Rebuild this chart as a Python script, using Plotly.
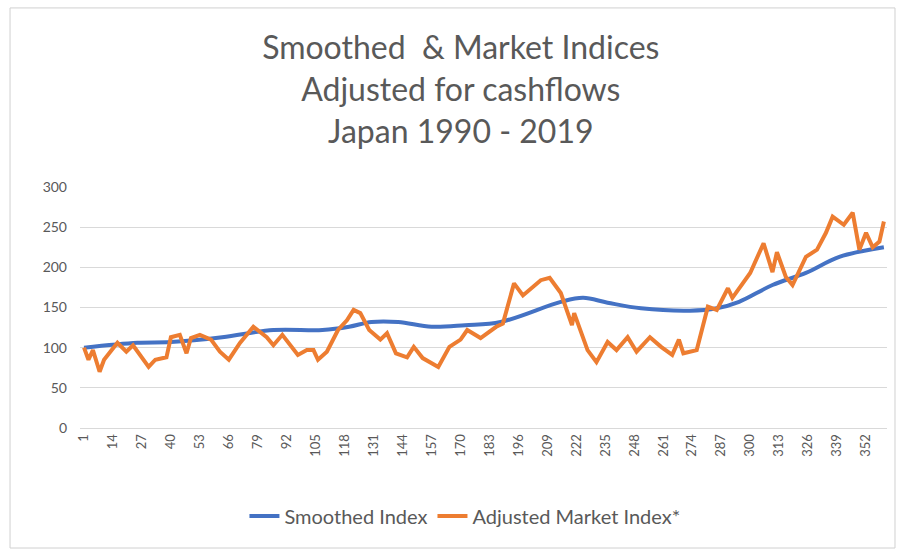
import plotly.graph_objects as go

# month index (1 = Jan 1990) and values
smoothed_month = [1, 25, 40, 63, 86, 108, 120, 130, 142, 157, 172, 188, 215, 225,
                  236, 251, 273, 285, 295, 310, 325, 340, 360]
smoothed_value = [100, 106, 107, 113, 122, 122, 126, 132, 132, 126, 128, 132, 157, 162,
                  156, 149, 146, 149, 157, 178, 193, 213, 225]

market_month = [1, 3, 5, 8, 10, 16, 20, 23, 30, 33, 38, 40, 44, 47, 49, 53, 58, 62, 66,
                71, 77, 83, 86, 90, 97, 101, 104, 106, 110, 115, 119, 122, 125, 129,
                134, 137, 141, 146, 149, 153, 160, 165, 170, 173, 179, 186, 189, 194,
                198, 206, 210, 215, 220, 221, 227, 231, 236, 240, 245, 249, 255, 260,
                265, 268, 270, 276, 281, 285, 290, 292, 300, 306, 310, 312, 316, 319,
                325, 330, 334, 337, 342, 346, 349, 352, 355, 358, 360]
market_value = [100, 85, 97, 70, 85, 106, 95, 103, 76, 85, 88, 113, 116, 93, 112, 116,
                110, 95, 85, 106, 126, 113, 103, 116, 91, 97, 97, 85, 95, 122, 134, 147,
                143, 122, 110, 118, 93, 88, 101, 87, 76, 101, 110, 122, 112, 126, 130,
                180, 165, 184, 187, 168, 128, 143, 97, 82, 107, 97, 113, 95, 113, 101,
                91, 110, 93, 97, 151, 147, 174, 162, 193, 230, 194, 219, 188, 178, 213,
                222, 243, 263, 253, 268, 222, 243, 225, 232, 257]

tick_months = list(range(1, 361, 13))
y_ticks = [0, 50, 100, 150, 200, 250, 300]

grey = "#595959"

fig = go.Figure()
fig.add_trace(go.Scatter(x=smoothed_month, y=smoothed_value, mode="lines",
                         name="Smoothed Index", line=dict(color="#4472C4", width=4, shape="spline")))
fig.add_trace(go.Scatter(x=market_month, y=market_value, mode="lines",
                         name="Adjusted Market Index*", line=dict(color="#ED7D31", width=4)))

fig.update_layout(
    width=900, height=550,
    paper_bgcolor="white", plot_bgcolor="white",
    margin=dict(l=80, r=13, t=187, b=122),
    font=dict(family="Lato, Noto Sans, sans-serif", color=grey, size=14),
    title=dict(text="Smoothed  & Market Indices<br>Adjusted for cashflows<br>Japan 1990 - 2019",
               x=0.512, xanchor="center", y=0.892, yanchor="top",
               font=dict(size=32, color=grey)),
    showlegend=True,
    legend=dict(orientation="h", x=0.477, xanchor="center", y=-0.365, yanchor="middle",
                font=dict(size=20, color=grey), bgcolor="rgba(0,0,0,0)"),
    xaxis=dict(range=[-0.8, 361.4], tickvals=tick_months, ticktext=[str(t) for t in tick_months],
               tickangle=-90, showgrid=False, showline=True, linecolor="#d9d9d9", linewidth=1,
               ticks="", zeroline=False, tickfont=dict(size=13, color=grey)),
    yaxis=dict(range=[0, 300], tickvals=y_ticks, showgrid=True, gridcolor="#d9d9d9",
               gridwidth=1, zeroline=False, showline=False, ticks="",
               tickfont=dict(size=14, color=grey), ticklabelstandoff=12),
)

# thin frame around the whole chart
fig.add_shape(type="rect", xref="paper", yref="paper", x0=-0.0867, x1=1.0099, y0=-0.498, y1=1.743,
              line=dict(color="#d0d0d0", width=1), layer="above")

fig.write_html("out.html", config={"displayModeBar": False},
               post_script="document.body.style.margin='0';")
